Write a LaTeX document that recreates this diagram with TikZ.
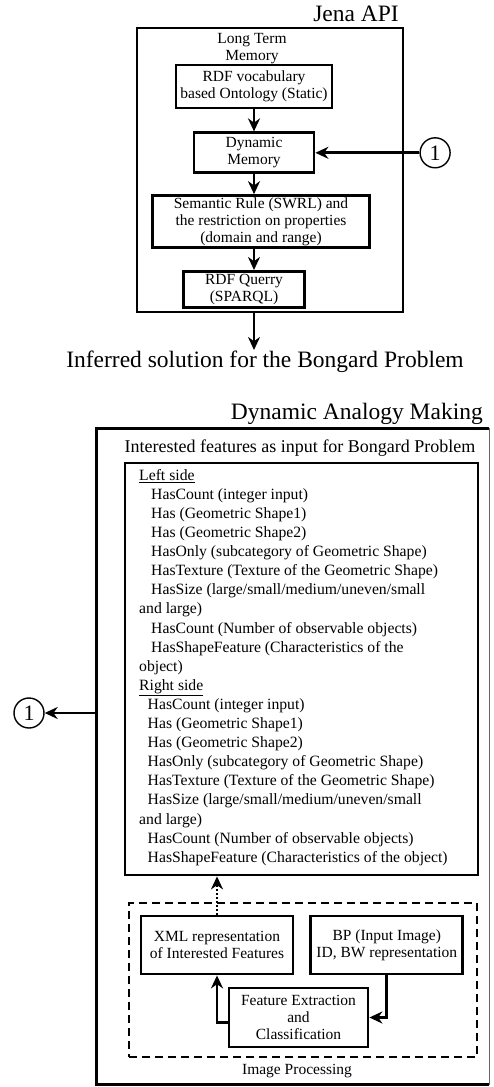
\documentclass[tikz,border=0pt]{standalone}
\usepackage{fontspec}
\setmainfont{Liberation Serif}
\usetikzlibrary{positioning,arrows.meta}

\begin{document}
\begin{tikzpicture}[x=1pt,y=-1pt]
\tikzstyle{box}     = [rectangle, draw=black, line width=2.8pt, align=center, inner sep=1pt, font=\fontsize{15.5}{17}\selectfont]
\tikzstyle{frame}   = [rectangle, draw=black, line width=2.8pt]
\tikzstyle{bigtext} = [inner sep=1pt, font=\fontsize{23.5}{24}\selectfont]
\tikzstyle{small}   = [inner sep=1pt, align=center, font=\fontsize{15.5}{17}\selectfont]
\tikzstyle{marker}  = [circle, draw=black, line width=1.4pt, minimum size=30pt, inner sep=0pt, font=\fontsize{22}{22}\selectfont]
\tikzstyle{arrow}   = [line width=2.8pt, -{Stealth[length=13pt,width=12pt]}]

\useasboundingbox (0,0) rectangle (494,1087);

% Jena API
\node (jena)  [frame, minimum width=266pt, minimum height=284pt] at (270,170) {};
\node (jenatitle) [bigtext, anchor=base east] at (400,21) {Jena API};
\node (ltm)   [small, anchor=north] at (252,32) {Long Term\\Memory};
\node (rdf)   [box, minimum width=156pt, minimum height=43pt] at (254,86.5) {RDF vocabulary\\based Ontology (Static)};
\node (dyn)   [box, minimum width=120pt, minimum height=40pt, below=22pt of rdf] {Dynamic\\Memory};
\node (sem)   [box, minimum width=217pt, minimum height=52pt, below=20pt of dyn, xshift=7pt] {Semantic Rule (SWRL) and\\the restriction on properties\\(domain and range)};
\node (query) [box, minimum width=121pt, minimum height=36pt, below=21pt of sem, xshift=-17pt] {RDF Querry\\(SPARQL)};
\node (one)   [marker, right=104pt of dyn] {1};
\node (result) [bigtext] at (265,362) {Inferred solution for the Bongard Problem};

\draw [arrow] (rdf) -- (dyn);
\draw [arrow] (dyn) -- (dyn |- sem.north);
\draw [arrow] (sem.south -| dyn) -- (dyn |- query.north);
\draw [arrow] (one) -- (dyn);
\draw [arrow] (dyn |- jena.south) -- (dyn |- result.north);

% Dynamic Analogy Making
\node (damtitle) [bigtext, anchor=base east] at (484,419) {Dynamic Analogy Making};
\node (dam)   [minimum width=392pt, minimum height=656pt] at (293,756.5) {};
\draw [line width=2.8pt] (dam.north east) -- (dam.north west) -- (dam.south west) -- (dam.south east);
\draw [line width=0.6pt, black!60] (dam.north east) -- (dam.south east);
\node (intro) [inner sep=1pt, font=\fontsize{18}{18}\selectfont] at (300,448) {Interested features as input for Bongard Problem};
\node (features) [frame, minimum width=353pt, minimum height=412pt] at (301.5,669) {};
\node (featuretext) [anchor=north west, align=left, inner sep=0pt, font=\fontsize{15.7}{19.1}\selectfont] at (139,469) {%
\underline{Left side}\\
\hspace*{12pt}HasCount (integer input)\\
\hspace*{12pt}Has (Geometric Shape1)\\
\hspace*{12pt}Has (Geometric Shape2)\\
\hspace*{12pt}HasOnly (subcategory of Geometric Shape)\\
\hspace*{12pt}HasTexture (Texture of the Geometric Shape)\\
\hspace*{12pt}HasSize (large/small/medium/uneven/small\\
and large)\\
\hspace*{12pt}HasCount (Number of observable objects)\\
\hspace*{12pt}HasShapeFeature (Characteristics of the\\
object)\\
\underline{Right side}\\
\hspace*{8.5pt}HasCount (integer input)\\
\hspace*{8.5pt}Has (Geometric Shape1)\\
\hspace*{8.5pt}Has (Geometric Shape2)\\
\hspace*{8.5pt}HasOnly (subcategory of Geometric Shape)\\
\hspace*{8.5pt}HasTexture (Texture of the Geometric Shape)\\
\hspace*{8.5pt}HasSize (large/small/medium/uneven/small\\
and large)\\
\hspace*{8.5pt}HasCount (Number of observable objects)\\
\hspace*{8.5pt}HasShapeFeature (Characteristics of the object)};
\node (two)   [marker] at (29,713) {1};
\draw [arrow] (dam.west |- two) -- (two);

% Image Processing
\node (improc) [frame, dash pattern=on 8pt off 5pt, minimum width=348pt, minimum height=154pt] at (303,980) {};
\node (improctitle) [small] at (297,1071) {Image Processing};
\node (xml)   [box, minimum width=152pt, minimum height=58pt] at (217,945) {XML representation\\of Interested Features};
\node (bp)    [box, minimum width=152pt, minimum height=58pt, right=15pt of xml] {BP (Input Image)\\ID, BW representation};
\node (fe)    [box, minimum width=139pt, minimum height=59pt] at (298.5,1017.5) {Feature Extraction\\and\\Classification};

\draw [arrow] ([yshift=-5pt]fe.west) -| (xml.south);
\draw [arrow] (bp.south) |- (fe.east);
\draw [arrow, dash pattern=on 2pt off 2pt] (xml.north) -- (xml.north |- features.south);
\end{tikzpicture}
\end{document}
